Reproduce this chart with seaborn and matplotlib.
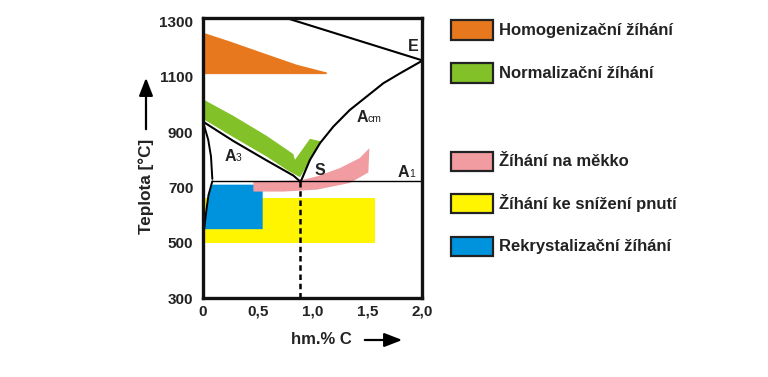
import matplotlib
matplotlib.use("Agg")
import matplotlib.pyplot as plt
import seaborn as sns
import pandas as pd
from matplotlib.patches import Rectangle, FancyArrowPatch

sns.set_theme(style="white")
plt.rcParams['font.family'] = ['Liberation Sans', 'DejaVu Sans']

# --- hranice oblastí v diagramu Fe-C (hm.% C, °C) ---
acm_c = [0.886, 0.90, 0.977, 1.068, 1.19, 1.34, 1.495, 1.647, 1.80, 2.0]
acm_t = [722, 728, 800, 860, 920, 980, 1029, 1077, 1113, 1158]
a3_c = [0.0, 0.277, 0.58, 0.825, 0.886]
a3_t = [938, 868, 798, 743, 722]
top_c = [0.76, 2.0]
top_t = [1313, 1160]
gp_c = [0.0, 0.048, 0.073, 0.085, 0.085]
gp_t = [938, 872, 812, 740, 722]
pq_c = [0.085, 0.05, 0.03, 0.01]
pq_t = [722, 672, 615, 548]
a1_c = [0.085, 2.0]
a1_t = [722, 722]
s_c = 0.885

# --- oblasti žíhání ---
homog_c = [0.0, 0.247, 0.55, 0.856, 1.13, 1.13, 0.0]
homog_t = [1260, 1228, 1186, 1144, 1116, 1110, 1110]
norm_c = [0.0, 0.277, 0.58, 0.824, 0.84, 0.977, 1.084, 0.886, 0.78, 0.58, 0.277, 0.0]
norm_t = [1019, 959, 887, 821, 800, 876, 866, 737, 760, 812, 882, 948]
mekko_c = [0.46, 0.886, 1.04, 1.25, 1.43, 1.52, 1.52, 1.51, 1.34, 1.04, 0.733, 0.46]
mekko_t = [722, 725, 740, 770, 806, 842, 846, 754, 716, 692, 685, 685]
pnuti_c = [0.0, 1.57, 1.57, 0.0]
pnuti_t = [500, 500, 661, 661]
rekr_c = [0.085, 0.545, 0.545, 0.01, 0.03, 0.05]
rekr_t = [710, 710, 549, 549, 615, 672]

labels = ["Homogenizační žíhání", "Normalizační žíhání", "Žíhání na měkko",
          "Žíhání ke snížení pnutí", "Rekrystalizační žíhání"]
colors = ["#E8781E", "#82C127", "#F19CA1", "#FFF500", "#0093DD"]

yticks = [300, 500, 700, 900, 1100, 1300]
xticks = [0, 0.5, 1.0, 1.5, 2.0]
xticklabels = ["0", "0,5", "1,0", "1,5", "2,0"]

W, H = 768, 377
fig = plt.figure(figsize=(W / 100, H / 100), dpi=100)
ax = fig.add_axes([203 / W, 1 - 298 / H, 219 / W, 280 / H])

# plochy
ax.fill(pnuti_c, pnuti_t, color=colors[3], lw=0)
ax.fill(rekr_c, rekr_t, color=colors[4], lw=0)
ax.fill(mekko_c, mekko_t, color=colors[2], lw=0)
ax.fill(homog_c, homog_t, color=colors[0], lw=0)
ax.fill(norm_c, norm_t, color=colors[1], lw=0)

# čáry
lines = [(acm_c, acm_t, 1.5), (a3_c, a3_t, 1.5), (top_c, top_t, 1.5),
         (gp_c, gp_t, 1.4), (pq_c, pq_t, 1.4), (a1_c, a1_t, 1.0)]
for cc, tt, lw in lines:
    d = pd.DataFrame({"c": cc, "t": tt})
    sns.lineplot(data=d, x="c", y="t", sort=False, color="black", lw=lw, ax=ax)
ax.plot([s_c, s_c], [300, 722], color="black", lw=1.8, ls=(0, (2.2, 1.5)))

# popisky
bold = dict(fontsize=11.5, fontweight="bold", color="#222222")
ax.text(1.92, 1192, "E", ha="center", va="baseline", **bold)
ax.text(1.07, 745, "S", ha="center", va="baseline", **bold)
for x, y, main, sub in [(1.40, 938, "A", "cm"), (0.20, 794, "A", "3"), (1.78, 737, "A", "1")]:
    ax.text(x, y, main, ha="left", va="baseline", **bold)
    ax.annotate(sub, (x, y), xytext=(8, 0), textcoords="offset points",
                ha="left", va="baseline", fontsize=7.5, color="#222222")

ax.set_xlim(0, 2.0)
ax.set_ylim(300, 1313)
ax.set_xticks(xticks)
ax.set_xticklabels(xticklabels)
ax.set_yticks(yticks)
ax.set_xlabel("")
ax.set_ylabel("")
ax.tick_params(length=0, labelsize=11, colors="#222222")
ax.tick_params(axis="y", pad=7)
ax.tick_params(axis="x", pad=5)
for lab in ax.get_xticklabels() + ax.get_yticklabels():
    lab.set_fontweight("bold")
for sp in ax.spines.values():
    sp.set_linewidth(2.4)
    sp.set_color("#111111")

# osy - popisky se šipkami
fig.text(146 / W, 1 - 186 / H, "Teplota [°C]", rotation=90, ha="center", va="center",
         fontsize=12.3, fontweight="bold", color="#222222")
fig.text(321 / W, 1 - 340 / H, "hm.% C", ha="center", va="center",
         fontsize=12, fontweight="bold", color="#222222")
arrow = dict(arrowstyle="-|>,head_length=0.9,head_width=0.35", lw=1.6, color="black")
fig.add_artist(FancyArrowPatch((146 / W, 1 - 132 / H), (146 / W, 1 - 75 / H),
               transform=fig.transFigure, mutation_scale=12, **arrow))
fig.add_artist(FancyArrowPatch((362 / W, 1 - 340 / H), (405 / W, 1 - 340 / H),
               transform=fig.transFigure, mutation_scale=12, **arrow))

# legenda
rows = [30, 73, 161, 203, 246.5]
for yc, lab, col in zip(rows, labels, colors):
    fig.add_artist(Rectangle((451 / W, 1 - (yc + 9.5) / H), 42 / W, 19 / H,
                             transform=fig.transFigure, facecolor=col,
                             edgecolor="#222222", lw=1.6))
    fig.text(499 / W, 1 - yc / H, lab, ha="left", va="center",
             fontsize=12, fontweight="bold", color="#222222")

fig.savefig("out.png", dpi=100)
